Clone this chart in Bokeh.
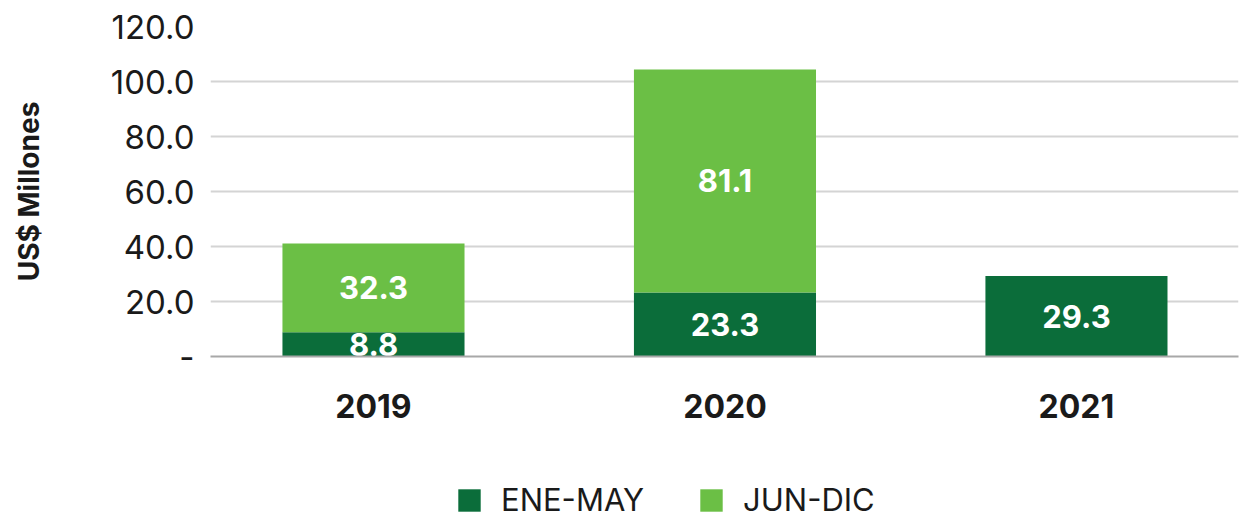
from bokeh.plotting import figure
from bokeh.models import (ColumnDataSource, Range1d, FixedTicker, Legend, LegendItem)
from bokeh.layouts import column
from bokeh.core.properties import value
from bokeh.embed import file_html
from bokeh.resources import INLINE

years = ["2019", "2020", "2021"]
ene_may = [8.8, 23.3, 29.3]
jun_dic = [32.3, 81.1, 0.0]
y_ticks = [0, 20, 40, 60, 80, 100, 120]
series_names = ["ENE-MAY", "JUN-DIC"]

DARK = "#0b6d3a"
LIGHT = "#6bbf45"
FONT = "Inter"
INK = "#1a1a1a"

x = list(range(len(years)))
top2 = [a + b for a, b in zip(ene_may, jun_dic)]

src = ColumnDataSource(dict(
    x=x, ene=ene_may, jun=jun_dic, top2=top2,
    ene_mid=[v / 2 for v in ene_may],
    jun_mid=[a + b / 2 for a, b in zip(ene_may, jun_dic)],
    ene_lbl=[f"{v:.1f}" for v in ene_may],
    jun_lbl=[f"{v:.1f}" if v > 0 else "" for v in jun_dic],
    zero=[0] * len(years),
))

p = figure(width=1241, height=440, output_backend="svg", toolbar_location=None,
           x_range=Range1d(-0.4637, 2.461), y_range=Range1d(0, 120),
           min_border_left=210, min_border_right=3, min_border_top=26,
           min_border_bottom=84)
p.outline_line_color = None
p.background_fill_color = "white"
p.border_fill_color = "white"

r1 = p.vbar(x="x", bottom="zero", top="ene", width=0.518, source=src,
            fill_color=DARK, line_color=None)
r2 = p.vbar(x="x", bottom="ene", top="top2", width=0.518, source=src,
            fill_color=LIGHT, line_color=None)

txt = dict(text_color="white", text_font=value(FONT), text_font_size="31px",
           text_font_style="bold", text_align="center", text_baseline="middle")
p.text(x="x", y="ene_mid", text="ene_lbl", source=src, **txt)
p.text(x="x", y="jun_mid", text="jun_lbl", source=src, **txt)

# axes
p.xaxis.ticker = FixedTicker(ticks=x)
p.xaxis.major_label_overrides = {i: y for i, y in enumerate(years)}
p.xaxis.major_label_text_font = FONT
p.xaxis.major_label_text_font_size = "32px"
p.xaxis.major_label_text_font_style = "bold"
p.xaxis.major_label_text_color = INK
p.xaxis.major_label_standoff = 31
p.xaxis.axis_line_color = "#a8a8a8"
p.xaxis.axis_line_width = 2
p.xaxis.major_tick_line_color = None
p.xaxis.minor_tick_line_color = None

p.yaxis.ticker = FixedTicker(ticks=y_ticks)
p.yaxis.major_label_overrides = {t: ("-" if t == 0 else f"{t:.1f}") for t in y_ticks}
p.yaxis.major_label_text_font = FONT
p.yaxis.major_label_text_font_size = "33px"
p.yaxis.major_label_text_color = INK
p.yaxis.major_label_standoff = 10
p.yaxis.axis_line_color = None
p.yaxis.major_tick_line_color = None
p.yaxis.minor_tick_line_color = None
p.yaxis.axis_label = "US$ Millones"
p.yaxis.axis_label_text_font = FONT
p.yaxis.axis_label_text_font_size = "28px"
p.yaxis.axis_label_text_font_style = "bold"
p.yaxis.axis_label_text_color = INK
p.yaxis.axis_label_standoff = 62

p.xgrid.grid_line_color = None
p.ygrid.grid_line_color = "#d4d4d4"
p.ygrid.grid_line_width = 2

# legend strip
pl = figure(width=1241, height=86, output_backend="svg", toolbar_location=None,
            x_range=Range1d(0, 1), y_range=Range1d(0, 1),
            x_axis_type=None, y_axis_type=None,
            min_border_left=0, min_border_right=0, min_border_top=0,
            min_border_bottom=0)
pl.outline_line_color = None
pl.grid.visible = False
d1 = pl.vbar(x=[0.5], bottom=[0], top=[0], width=0.1, fill_color=DARK, line_color=None)
d2 = pl.vbar(x=[0.5], bottom=[0], top=[0], width=0.1, fill_color=LIGHT, line_color=None)
legend = Legend(items=[LegendItem(label=series_names[0], renderers=[d1]),
                       LegendItem(label=series_names[1], renderers=[d2])],
                orientation="horizontal", location=(245, 8),
                glyph_width=28, glyph_height=28, label_text_font=FONT,
                label_text_font_size="31px", label_text_color=INK,
                label_standoff=18, spacing=53, border_line_color=None,
                background_fill_alpha=0, margin=0, padding=0)
pl.add_layout(legend, "center")

layout = column(p, pl, spacing=0)
open("out.html", "w").write(file_html(layout, INLINE))
